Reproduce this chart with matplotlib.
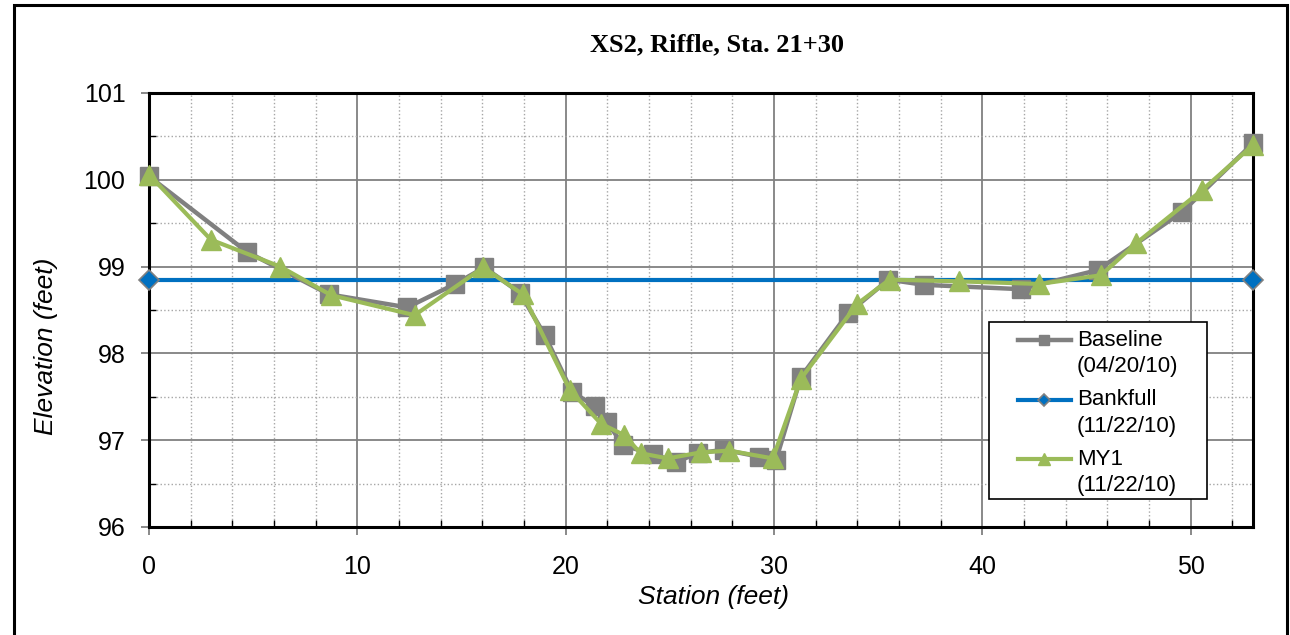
import matplotlib
matplotlib.use("Agg")
import matplotlib.pyplot as plt
from matplotlib.ticker import MultipleLocator
from matplotlib.legend_handler import HandlerLine2D
from matplotlib.patches import Rectangle

# survey data
baseline_x = [0, 4.7, 8.65, 12.4, 14.7, 16.1, 17.8, 19.0, 20.3, 21.4, 22.0, 22.75, 24.2,
              25.3, 26.35, 27.6, 29.3, 30.1, 31.3, 33.55, 35.5, 37.2, 41.85, 45.55, 49.6, 53.0]
baseline_y = [100.04, 99.17, 98.68, 98.53, 98.80, 98.99, 98.70, 98.21, 97.56, 97.39, 97.21,
              96.94, 96.84, 96.75, 96.85, 96.89, 96.81, 96.77, 97.73, 98.46, 98.85, 98.79,
              98.74, 98.96, 99.63, 100.42]

bankfull_x = [0, 53.0]
bankfull_y = [98.85, 98.85]

my1_x = [0, 2.97, 6.3, 8.75, 12.75, 16.05, 17.95, 20.2, 21.7, 22.8, 23.6, 24.9, 26.5,
         27.85, 29.95, 31.3, 34.0, 35.55, 38.9, 42.75, 45.7, 47.4, 50.55, 53.0]
my1_y = [100.06, 99.31, 99.00, 98.67, 98.44, 98.99, 98.68, 97.58, 97.19, 97.06, 96.85,
         96.79, 96.86, 96.88, 96.79, 97.71, 98.57, 98.85, 98.83, 98.80, 98.90, 99.27,
         99.88, 100.40]

labels = ["Baseline\n(04/20/10)", "Bankfull\n(11/22/10)", "MY1\n(11/22/10)"]
title = "XS2, Riffle, Sta. 21+30"

GRAY = "#808080"
GREEN = "#9BBB59"
BLUE = "#0070C0"

plt.rcParams['font.family'] = ['Liberation Sans', 'DejaVu Sans']


class FirstLineHandler(HandlerLine2D):
    # put the sample on the first text line and leave a gap on the left, like Excel
    def create_artists(self, legend, orig_handle, xdescent, ydescent, width, height, fontsize, trans):
        gap = 0.95 * fontsize
        lift = 0.61 * fontsize
        return super().create_artists(legend, orig_handle, xdescent - gap, ydescent - 2 * lift,
                                      width - gap, height, fontsize, trans)


W, H = 1290, 635
fig = plt.figure(figsize=(W / 100, H / 100), dpi=100)
ax = fig.add_axes([149 / W, 1 - 527 / H, 1104 / W, 434 / H])

l1, = ax.plot(baseline_x, baseline_y, color=GRAY, lw=3.2, marker='s', ms=13.5,
              mfc=GRAY, mec=GRAY, zorder=4, clip_on=False)
l2, = ax.plot(bankfull_x, bankfull_y, color=BLUE, lw=3.0, marker='D', ms=10.5,
              mfc=BLUE, mec=GRAY, mew=1.2, zorder=3, clip_on=False)
l3, = ax.plot(my1_x, my1_y, color=GREEN, lw=3.0, marker='^', ms=15,
              mfc=GREEN, mec=GREEN, zorder=5, clip_on=False)

ax.set_xlim(0, 53)
ax.set_ylim(96, 101)
ax.xaxis.set_major_locator(MultipleLocator(10))
ax.xaxis.set_minor_locator(MultipleLocator(2))
ax.yaxis.set_major_locator(MultipleLocator(1))
ax.yaxis.set_minor_locator(MultipleLocator(0.5))

ax.grid(which='major', color=GRAY, lw=1.3, ls='-')
ax.grid(which='minor', color='#a6a6a6', lw=1.0, ls=':')
ax.set_axisbelow(True)

ax.tick_params(which='major', direction='out', length=6, width=1.3, color=GRAY,
               labelsize=18, pad=11)
ax.tick_params(axis='x', which='major', pad=14)
ax.tick_params(which='minor', direction='in', length=5, width=1.0, color='black')
for s in ax.spines.values():
    s.set_color('black')
    s.set_linewidth(2.2)

ax.set_xlabel("Station (feet)", fontsize=19, style='italic')
ax.xaxis.set_label_coords((713 - 149) / 1104, -0.133)
ax.set_ylabel("Elevation (feet)", fontsize=19, style='italic')
ax.yaxis.set_label_coords((58 - 149) / 1104, 0.416)

fig.text(717 / W, 1 - 45 / H, title, ha='center', va='center', fontsize=19,
         fontweight='bold', family='Liberation Serif')

# legend frame
ax.add_patch(Rectangle((989 / W, 1 - 499 / H), 218 / W, 177 / H, transform=fig.transFigure,
                       facecolor='white', edgecolor='black', lw=1.2, zorder=6, clip_on=False))
hm = {l: FirstLineHandler() for l in (l1, l2, l3)}
leg = ax.legend([l1, l2, l3], labels, loc='upper left',
                bbox_to_anchor=(989 / W, 1 - 322 / H), bbox_transform=fig.transFigure,
                borderaxespad=0, borderpad=0.35, frameon=False, fontsize=16,
                handlelength=3.33, handletextpad=0.27, labelspacing=0.53,
                markerscale=0.55, handler_map=hm)
for t in leg.get_texts():
    t.set_linespacing(1.35)
leg.set_zorder(7)

# outer chart border
fig.patches.append(Rectangle((14 / W, -0.05), (1287 - 14) / W, 1 - 5 / H + 0.05,
                             transform=fig.transFigure, fill=False, edgecolor='black',
                             lw=2.2, figure=fig))

fig.savefig("out.png", dpi=100)
